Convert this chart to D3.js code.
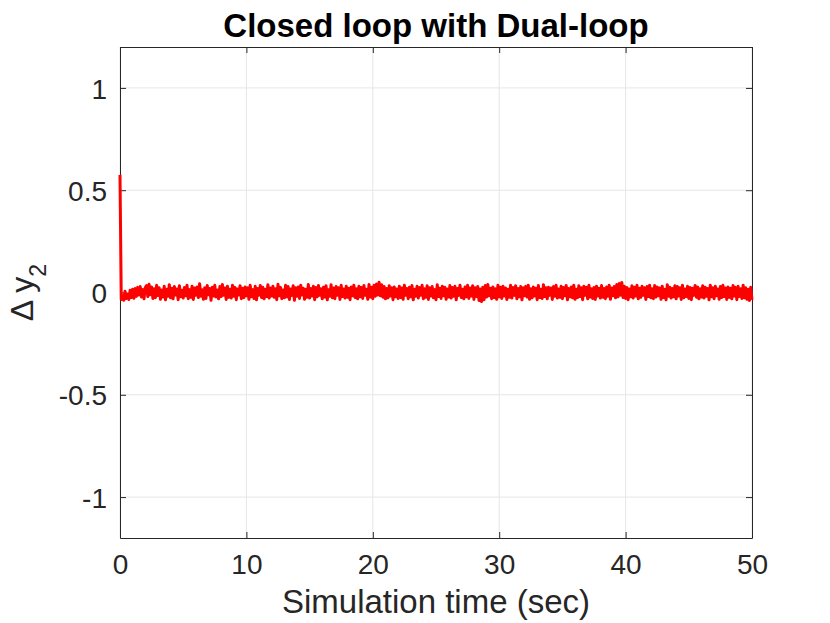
<!DOCTYPE html>
<html>
<head>
<meta charset="utf-8">
<script src="https://cdn.jsdelivr.net/npm/d3@7"></script>
<style>
  html, body { margin: 0; padding: 0; background: #fff; }
  svg { display: block; }
  text { font-family: "Liberation Sans", Arial, Helvetica, sans-serif; }
</style>
</head>
<body>
<svg id="chart" width="830" height="623"></svg>
<script>
// ---- data ----
const titleText = "Closed loop with Dual-loop";
const xLabelText = "Simulation time (sec)";
const xTicks = [0, 10, 20, 30, 40, 50];
const yTicks = [-1, -0.5, 0, 0.5, 1];
const yTickLabels = ["-1", "-0.5", "0", "0.5", "1"];
const xDomain = [0, 50];
const yDomain = [-1.2, 1.2];
const sampleStep = 0.1; // seconds between samples
const initialValue = 0.575; // value at t = 0
// Δy2 at t = 0.1, 0.2, ... 50.0
const dy2 = [
 -0.034,-0.015,-0.038,0.006,-0.029,-0.008,-0.034,0.011,-0.024,0.016,-0.028,0.02,-0.019,0.025,-0.012,0.029,-0.022,0.015,-0.031,0.024,
 0.034,-0.02,0.04,-0.011,0.027,-0.029,0.018,-0.025,0.035,-0.015,0.023,-0.033,0.012,-0.022,0.03,-0.036,0.016,-0.018,0.038,-0.026,
 0.021,-0.031,0.029,-0.012,0.017,-0.035,0.033,-0.021,0.011,-0.027,0.025,-0.016,0.036,-0.03,0.014,-0.023,0.031,-0.034,0.022,-0.013,
 0.027,-0.025,0.043,-0.018,0.013,-0.033,0.023,-0.029,0.034,-0.011,0.02,-0.038,0.026,-0.017,0.035,-0.022,0.012,-0.031,0.029,-0.02,
 0.039,-0.014,0.022,-0.034,0.031,-0.023,0.016,-0.027,0.036,-0.018,0.025,-0.035,0.017,-0.012,0.033,-0.03,0.021,-0.025,0.027,-0.016,
 0.023,-0.033,0.035,-0.021,0.014,-0.029,0.03,-0.036,0.02,-0.013,0.034,-0.025,0.026,-0.031,0.016,-0.02,0.038,-0.027,0.022,-0.017,
 0.031,-0.023,0.018,-0.035,0.04,-0.016,0.025,-0.03,0.012,-0.026,0.035,-0.021,0.029,-0.034,0.017,-0.014,0.033,-0.038,0.023,-0.018,
 0.027,-0.029,0.036,-0.012,0.021,-0.033,0.016,-0.023,0.039,-0.027,0.02,-0.017,0.03,-0.035,0.025,-0.021,0.034,-0.014,0.018,-0.031,
 0.026,-0.022,0.033,-0.036,0.014,-0.018,0.038,-0.026,0.022,-0.03,0.029,-0.013,0.023,-0.034,0.035,-0.02,0.017,-0.027,0.031,-0.023,
 0.021,-0.035,0.027,-0.016,0.036,-0.025,0.018,-0.031,0.03,-0.021,0.025,-0.029,0.034,-0.014,0.016,-0.033,0.039,-0.022,0.026,-0.03,
 0.035,-0.018,0.042,-0.012,0.05,-0.016,0.038,-0.023,0.029,-0.031,0.02,-0.026,0.033,-0.017,0.023,-0.035,0.027,-0.021,0.017,-0.029,
 0.031,-0.025,0.022,-0.033,0.036,-0.014,0.02,-0.03,0.026,-0.021,0.034,-0.036,0.016,-0.018,0.03,-0.027,0.025,-0.013,0.035,-0.031,
 0.018,-0.023,0.033,-0.034,0.023,-0.017,0.029,-0.026,0.014,-0.035,0.038,-0.02,0.021,-0.029,0.031,-0.016,0.026,-0.033,0.017,-0.022,
 0.034,-0.027,0.025,-0.018,0.03,-0.036,0.02,-0.014,0.036,-0.025,0.016,-0.031,0.027,-0.021,0.035,-0.029,0.022,-0.017,0.033,-0.034,
 0.023,-0.02,0.029,-0.039,0.017,-0.044,0.026,-0.035,0.034,-0.022,0.039,-0.016,0.021,-0.03,0.027,-0.025,0.018,-0.033,0.036,-0.021,
 0.026,-0.029,0.031,-0.017,0.022,-0.034,0.016,-0.023,0.035,-0.027,0.025,-0.014,0.033,-0.031,0.02,-0.021,0.029,-0.036,0.023,-0.016,
 0.03,-0.022,0.036,-0.033,0.018,-0.026,0.027,-0.017,0.021,-0.035,0.034,-0.025,0.016,-0.029,0.038,-0.02,0.023,-0.031,0.026,-0.014,
 0.022,-0.034,0.029,-0.018,0.035,-0.027,0.017,-0.023,0.031,-0.03,0.025,-0.016,0.034,-0.036,0.02,-0.021,0.027,-0.026,0.036,-0.033,
 0.016,-0.025,0.033,-0.02,0.023,-0.035,0.03,-0.014,0.026,-0.031,0.035,-0.022,0.018,-0.029,0.025,-0.034,0.031,-0.017,0.021,-0.027,
 0.034,-0.023,0.02,-0.03,0.027,-0.018,0.036,-0.033,0.022,-0.016,0.029,-0.026,0.039,-0.021,0.044,-0.013,0.049,-0.025,0.031,-0.029,
 0.025,-0.035,0.017,-0.021,0.033,-0.027,0.026,-0.017,0.035,-0.031,0.021,-0.023,0.03,-0.014,0.023,-0.034,0.029,-0.02,0.036,-0.026,
 0.018,-0.03,0.034,-0.022,0.027,-0.016,0.022,-0.033,0.031,-0.025,0.016,-0.036,0.038,-0.018,0.026,-0.027,0.02,-0.021,0.033,-0.031,
 0.029,-0.017,0.023,-0.034,0.035,-0.026,0.017,-0.02,0.03,-0.029,0.025,-0.035,0.021,-0.014,0.034,-0.023,0.027,-0.031,0.018,-0.022,
 0.033,-0.027,0.026,-0.018,0.02,-0.036,0.036,-0.021,0.023,-0.03,0.031,-0.016,0.017,-0.033,0.029,-0.025,0.035,-0.02,0.022,-0.034,
 0.027,-0.023,0.021,-0.031,0.034,-0.017,0.025,-0.035,0.03,-0.02,0.018,-0.029,0.036,-0.026,0.023,-0.033,0.016,-0.039,0.026,-0.036
];

// ---- layout ----
const margin = { left: 120, right: 78, top: 47, bottom: 85 };
const W = 830, H = 623;
const iw = W - margin.left - margin.right;
const ih = H - margin.top - margin.bottom;
const axisColor = "#262626";
const gridColor = "#e6e6e6";

const svg = d3.select("#chart");
const g = svg.append("g").attr("transform", `translate(${margin.left},${margin.top})`);

const x = d3.scaleLinear().domain(xDomain).range([0, iw]);
const y = d3.scaleLinear().domain(yDomain).range([ih, 0]);

// grid
g.append("g").selectAll("line").data(xTicks).join("line")
  .attr("x1", d => x(d)).attr("x2", d => x(d)).attr("y1", 0).attr("y2", ih)
  .attr("stroke", gridColor).attr("stroke-width", 1);
g.append("g").selectAll("line").data(yTicks).join("line")
  .attr("y1", d => y(d)).attr("y2", d => y(d)).attr("x1", 0).attr("x2", iw)
  .attr("stroke", gridColor).attr("stroke-width", 1);

// axes (MATLAB style: inward ticks, box)
const tickLen = 6;
const fontSize = 28;
const xAxisB = d3.axisBottom(x).tickValues(xTicks).tickSizeInner(-tickLen).tickSizeOuter(0).tickPadding(16).tickFormat(d3.format("d"));
const xAxisT = d3.axisTop(x).tickValues(xTicks).tickSizeInner(-tickLen).tickSizeOuter(0).tickFormat("");
const yAxisL = d3.axisLeft(y).tickValues(yTicks).tickSizeInner(-tickLen).tickSizeOuter(0).tickPadding(13).tickFormat((d, i) => yTickLabels[i]);
const yAxisR = d3.axisRight(y).tickValues(yTicks).tickSizeInner(-tickLen).tickSizeOuter(0).tickFormat("");

function style(sel) {
  sel.select(".domain").attr("stroke", axisColor).attr("stroke-width", 1);
  sel.selectAll(".tick line").attr("stroke", axisColor).attr("stroke-width", 1);
  sel.selectAll(".tick text").attr("fill", axisColor).attr("font-size", fontSize)
    .attr("font-family", '"Liberation Sans", Arial, sans-serif');
}
g.append("g").attr("transform", `translate(0,${ih})`).call(xAxisB).call(style);
g.append("g").call(xAxisT).call(style);
g.append("g").call(yAxisL).call(style)
  .selectAll(".tick text").attr("dy", "0.36em");
g.append("g").attr("transform", `translate(${iw},0)`).call(yAxisR).call(style);

// data line (drawn over the axes)
const points = [[0, initialValue]].concat(dy2.map((v, i) => [(i + 1) * sampleStep, v]));
const line = d3.line().x(d => x(d[0])).y(d => y(d[1]));
g.append("path").datum(points)
  .attr("fill", "none").attr("stroke", "#ff0000").attr("stroke-width", 3)
  .attr("stroke-linejoin", "round").attr("d", line);

// title
svg.append("text")
  .attr("x", margin.left + iw / 2).attr("y", 37)
  .attr("text-anchor", "middle")
  .attr("font-size", 33).attr("font-weight", "bold").attr("fill", "#000")
  .text(titleText);

// x label
svg.append("text")
  .attr("x", margin.left + iw / 2).attr("y", 613)
  .attr("text-anchor", "middle")
  .attr("font-size", 33).attr("fill", axisColor)
  .text(xLabelText);

// y label: Δ y₂
const yl = svg.append("text")
  .attr("transform", `translate(33,${margin.top + y(0)}) rotate(-90)`)
  .attr("text-anchor", "middle")
  .attr("font-size", 32).attr("fill", axisColor);
yl.append("tspan").text("Δ y");
yl.append("tspan").attr("dy", 13).attr("font-size", 23).text("2");
</script>
</body>
</html>
